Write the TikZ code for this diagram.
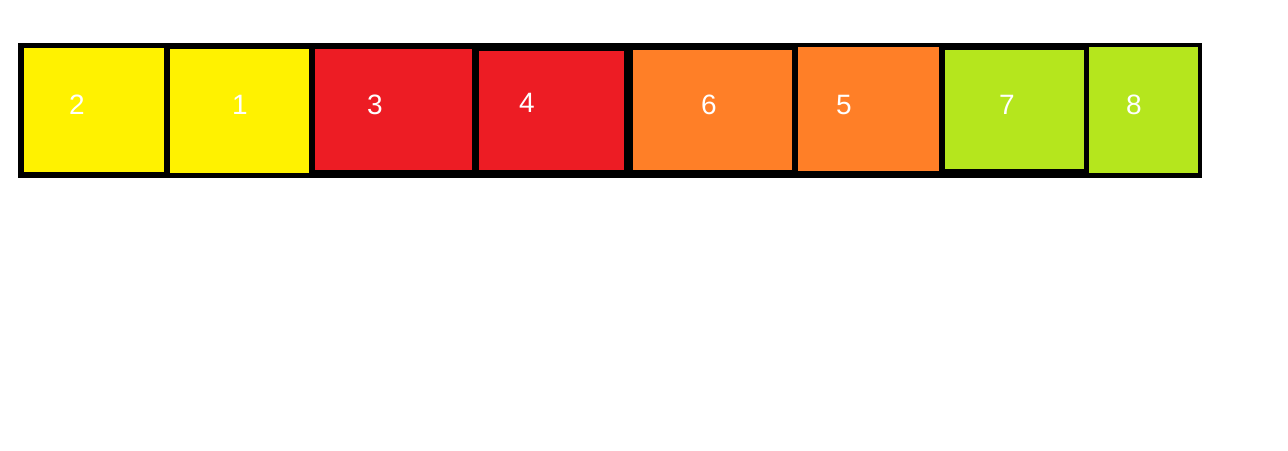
\documentclass[tikz,border=0pt]{standalone}
\usepackage{fontspec}
\setmainfont{Liberation Sans}
\definecolor{cyellow}{HTML}{FFF200}
\definecolor{cred}{HTML}{ED1C24}
\definecolor{corange}{HTML}{FF7F27}
\definecolor{clime}{HTML}{B5E61D}
\tikzset{
  cell/.style={inner sep=0pt, outer sep=0pt, draw=none},
  num/.style={text=white, font=\fontsize{28}{28}\selectfont, inner sep=0pt},
}
\begin{document}
\begin{tikzpicture}[x=1pt,y=-1pt]
\useasboundingbox (0,0) rectangle (1288,450);
\fill[white] (0,0) rectangle (1288,450);
% black frame
\fill[black] (18,43) rectangle (1202,178);
% cells
\fill[cyellow] (24,48) rectangle (164,172);
\fill[cyellow] (170,49) rectangle (309,173);
\fill[cred] (315,49) rectangle (472,170);
\fill[cred] (479,51) rectangle (624,170);
\fill[corange] (633,50) rectangle (792,170);
\fill[corange] (798,47) rectangle (939,171);
\fill[clime] (945,50) rectangle (1084,169);
\fill[clime] (1089,47) rectangle (1198,173);
% labels
\node[num] (n2) at (77,105) {2};
\node[num] (n1) at (240,105) {1};
\node[num] (n3) at (375,105) {3};
\node[num] (n4) at (527,103) {4};
\node[num] (n6) at (709,105) {6};
\node[num] (n5) at (844,105) {5};
\node[num] (n7) at (1007,105) {7};
\node[num] (n8) at (1134,105) {8};
\end{tikzpicture}
\end{document}
